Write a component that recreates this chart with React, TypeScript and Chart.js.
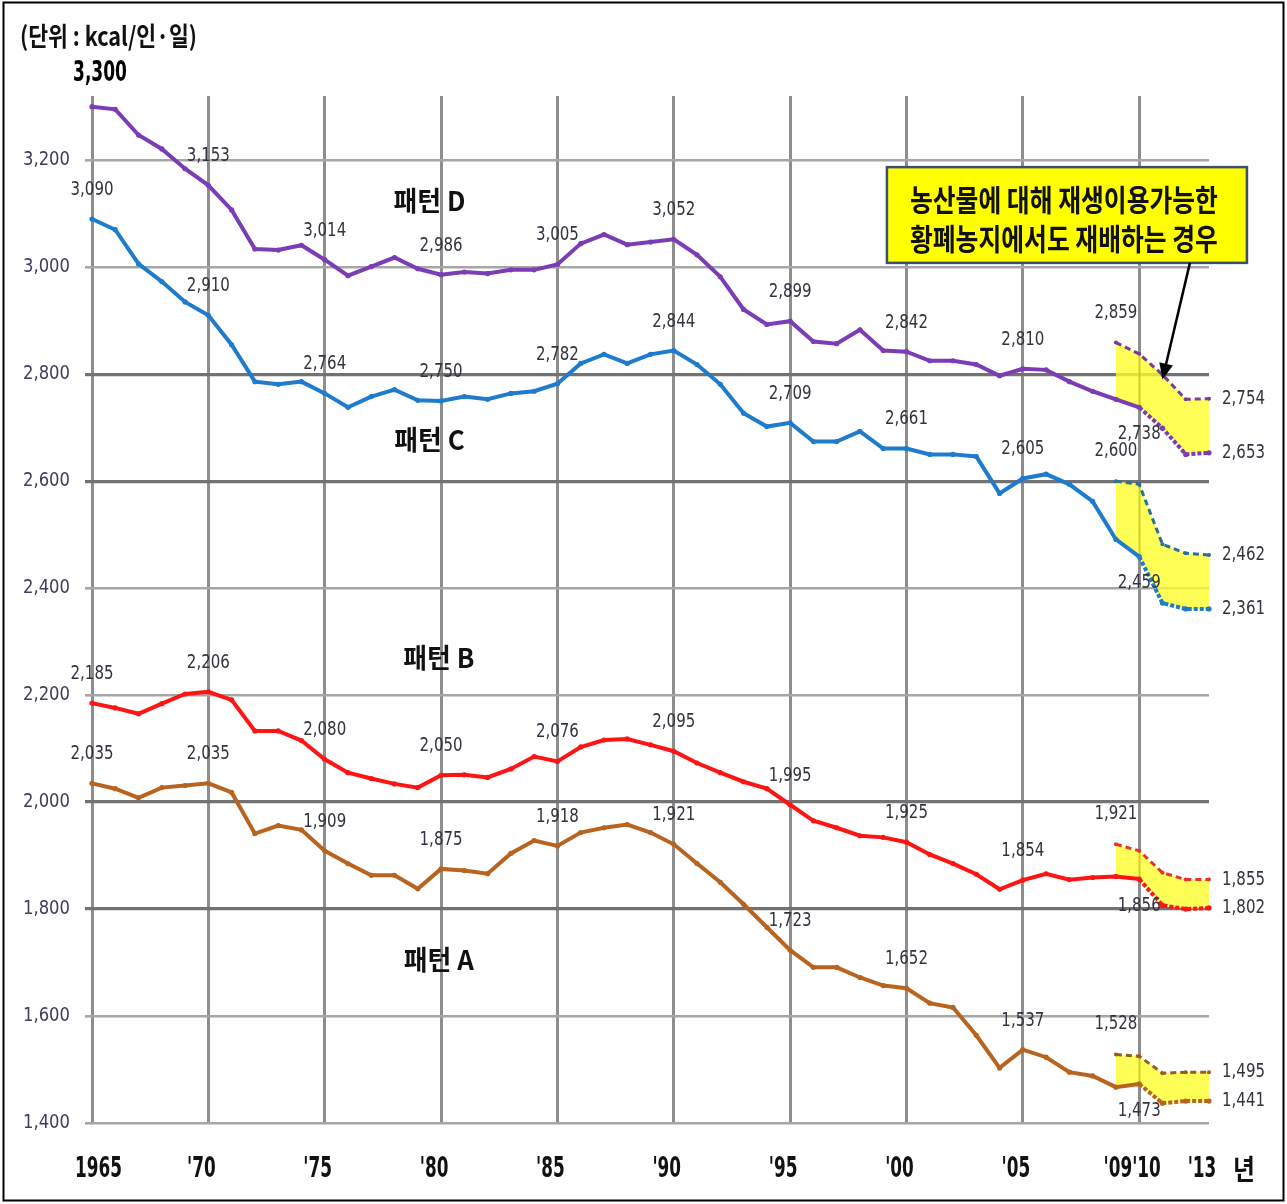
import React, { useEffect, useRef } from "react";
import { Chart, registerables } from "chart.js";

Chart.register(...registerables);

// ---------- data ----------
const mainYears = [
  1965, 1966, 1967, 1968, 1969, 1970, 1971, 1972, 1973, 1974,
  1975, 1976, 1977, 1978, 1979, 1980, 1981, 1982, 1983, 1984,
  1985, 1986, 1987, 1988, 1989, 1990, 1991, 1992, 1993, 1994,
  1995, 1996, 1997, 1998, 1999, 2000, 2001, 2002, 2003, 2004,
  2005, 2006, 2007, 2008, 2009, 2010,
];
const tailYears = [2010, 2011, 2012, 2013];
const branchYears = [2009, 2010, 2011, 2012, 2013];

const patternDMain = [
  3300, 3295, 3247, 3221, 3184, 3153, 3107, 3034, 3032, 3041,
  3014, 2984, 3001, 3018, 2997, 2986, 2991, 2988, 2995, 2995,
  3005, 3044, 3061, 3042, 3047, 3052, 3023, 2982, 2921, 2893,
  2899, 2861, 2857, 2883, 2844, 2842, 2825, 2825, 2818, 2797,
  2810, 2808, 2786, 2768, 2753, 2738,
];
const patternDTail = [2738, 2699, 2650, 2653];
const patternDHigh = [2859, 2838, 2799, 2753, 2754];

const patternCMain = [
  3090, 3070, 3006, 2973, 2935, 2910, 2855, 2786, 2781, 2786,
  2764, 2738, 2758, 2771, 2751, 2750, 2758, 2753, 2764, 2768,
  2782, 2820, 2837, 2820, 2837, 2844, 2818, 2781, 2727, 2702,
  2709, 2674, 2674, 2693, 2661, 2661, 2650, 2650, 2646, 2577,
  2605, 2613, 2594, 2562, 2491, 2459,
];
const patternCTail = [2459, 2372, 2361, 2361];
const patternCHigh = [2600, 2594, 2482, 2465, 2462];

const patternBMain = [
  2185, 2176, 2165, 2184, 2202, 2206, 2191, 2133, 2133, 2115,
  2080, 2055, 2044, 2034, 2027, 2050, 2051, 2046, 2062, 2085,
  2076, 2103, 2116, 2118, 2107, 2095, 2073, 2055, 2038, 2025,
  1995, 1965, 1952, 1937, 1934, 1925, 1902, 1885, 1865, 1837,
  1854, 1866, 1855, 1859, 1861, 1856,
];
const patternBTail = [1856, 1807, 1800, 1802];
const patternBHigh = [1921, 1909, 1868, 1855, 1855];

const patternAMain = [
  2035, 2025, 2008, 2027, 2031, 2035, 2018, 1941, 1956, 1948,
  1909, 1885, 1863, 1863, 1838, 1875, 1872, 1866, 1904, 1928,
  1918, 1943, 1952, 1958, 1943, 1921, 1885, 1850, 1809, 1766,
  1723, 1691, 1691, 1672, 1657, 1652, 1624, 1616, 1564, 1503,
  1537, 1523, 1495, 1488, 1467, 1473,
];
const patternATail = [1473, 1437, 1441, 1441];
const patternAHigh = [1528, 1525, 1493, 1495, 1495];

const labelYears = [1965, 1970, 1975, 1980, 1985, 1990, 1995, 2000, 2005];

const yTickValues = [1400, 1600, 1800, 2000, 2200, 2400, 2600, 2800, 3000, 3200];
const yStrongValues = [1800, 2000, 2600, 2800];
const xGridYears = [1965, 1970, 1975, 1980, 1985, 1990, 1995, 2000, 2005, 2010];
const xTickYears = [1965, 1970, 1975, 1980, 1985, 1990, 1995, 2000, 2005, 2010, 2013];
const xTickText = ["1965", "'70", "'75", "'80", "'85", "'90", "'95", "'00", "'05", "'09'10", "'13"];

const patternNames = ["패턴 D", "패턴 C", "패턴 B", "패턴 A"];
const patternNameYears = [1979.5, 1979.5, 1979.9, 1979.9];
const patternNameValues = [3125, 2677, 2269, 1705];

const unitText = "(단위 : kcal/인·일)";
const yearUnit = "년";
const calloutLines = ["농산물에 대해 재생이용가능한", "황폐농지에서도 재배하는 경우"];

// ---------- styling ----------
const SANS = "'DejaVu Sans', 'Liberation Sans', sans-serif";
const KR = "'Noto Sans CJK KR', 'Noto Sans', sans-serif";
const YELLOW = "rgba(255, 255, 40, 0.78)";

const patterns = [
  { main: patternDMain, tail: patternDTail, high: patternDHigh, color: "#7b3db5", hi: "#7a3c95" },
  { main: patternCMain, tail: patternCTail, high: patternCHigh, color: "#1f7bcc", hi: "#2a7295" },
  { main: patternBMain, tail: patternBTail, high: patternBHigh, color: "#ff1414", hi: "#e8322a" },
  { main: patternAMain, tail: patternATail, high: patternAHigh, color: "#b8641f", hi: "#9a5a22" },
];

const fmt = (v: number) => v.toLocaleString("en-US");

function scaleFor(ctx: CanvasRenderingContext2D, sample: string, font: string, width: number) {
  ctx.save();
  ctx.font = font;
  const w = ctx.measureText(sample).width;
  ctx.restore();
  return w > 0 ? width / w : 1;
}

function drawText(
  ctx: CanvasRenderingContext2D,
  text: string,
  x: number,
  y: number,
  font: string,
  sx: number,
  color: string,
  align: CanvasTextAlign
) {
  ctx.save();
  ctx.font = font;
  ctx.fillStyle = color;
  ctx.textBaseline = "middle";
  ctx.textAlign = align;
  ctx.translate(x, y);
  ctx.scale(sx, 1);
  ctx.fillText(text, 0, 0);
  ctx.restore();
}

const overlayPlugin = {
  id: "overlay",
  afterDraw(chart: any) {
    const ctx: CanvasRenderingContext2D = chart.ctx;
    const xs = chart.scales.x;
    const ys = chart.scales.y;
    const X = (v: number) => xs.getPixelForValue(v);
    const Y = (v: number) => ys.getPixelForValue(v);
    const area = chart.chartArea;

    // outer frame
    ctx.save();
    ctx.strokeStyle = "#000";
    ctx.lineWidth = 2;
    ctx.strokeRect(3.5, 2.5, 1280, 1198);
    ctx.restore();

    // unit label
    const unitFont = `bold 26px ${KR}`;
    drawText(ctx, unitText, 20, 36, unitFont, scaleFor(ctx, unitText, unitFont, 177), "#111", "left");

    // y tick labels
    const yFont = `20px ${SANS}`;
    const ySx = scaleFor(ctx, "3,200", yFont, 47);
    yTickValues.forEach((v) => {
      drawText(ctx, fmt(v), area.left - 22, Y(v), yFont, ySx, "#3d3d5c", "right");
    });

    // x tick labels
    const xFont = `bold 29px ${SANS}`;
    const xSx = scaleFor(ctx, "1965", xFont, 47);
    xTickYears.forEach((yr, i) => {
      const t = xTickText[i];
      if (i === 0) drawText(ctx, t, X(yr) - 17, area.bottom + 46, xFont, xSx, "#111", "left");
      else drawText(ctx, t, X(yr) - 7, area.bottom + 46, xFont, xSx, "#111", "center");
    });
    drawText(ctx, yearUnit, area.right + 35, area.bottom + 46, `bold 28px ${KR}`, 0.85, "#111", "center");

    // data labels
    const lFont = `19px ${SANS}`;
    const lSx = scaleFor(ctx, "3,153", lFont, 43);
    const lColor = "#33333f";
    patterns.forEach((p, pi) => {
      labelYears.forEach((yr) => {
        const v = p.main[mainYears.indexOf(yr)];
        if (pi === 0 && yr === 1965) {
          const bFont = `bold 29px ${SANS}`;
          drawText(ctx, fmt(v), X(yr) + 8, Y(v) - 33, bFont, scaleFor(ctx, "3,300", bFont, 54), "#000", "center");
        } else {
          drawText(ctx, fmt(v), X(yr), Y(v) - 29, lFont, lSx, lColor, "center");
        }
      });
      // upper branch
      const h0 = p.high[0];
      drawText(ctx, fmt(h0), X(branchYears[0]), Y(h0) - 30, lFont, lSx, lColor, "center");
      const hl = p.high[p.high.length - 1];
      drawText(ctx, fmt(hl), X(branchYears[branchYears.length - 1]) + 13, Y(hl), lFont, lSx, lColor, "left");
      // lower branch
      const t0 = p.tail[0];
      drawText(ctx, fmt(t0), X(tailYears[0]), Y(t0) + 27, lFont, lSx, lColor, "center");
      const tl = p.tail[p.tail.length - 1];
      drawText(ctx, fmt(tl), X(tailYears[tailYears.length - 1]) + 13, Y(tl), lFont, lSx, lColor, "left");
    });

    // pattern names
    const pFont = `bold 27px ${KR}`;
    const pSx = scaleFor(ctx, "패턴 D", pFont, 72);
    patternNames.forEach((n, i) => {
      drawText(ctx, n, X(patternNameYears[i]), Y(patternNameValues[i]), pFont, pSx, "#111", "center");
    });

    // callout box
    const bx0 = X(1999.16), bx1 = X(2014.63);
    const by0 = Y(3187), by1 = Y(3008);
    ctx.save();
    ctx.fillStyle = "#ffff00";
    ctx.fillRect(bx0, by0, bx1 - bx0, by1 - by0);
    ctx.strokeStyle = "#3b4f6e";
    ctx.lineWidth = 2.5;
    ctx.strokeRect(bx0, by0, bx1 - bx0, by1 - by0);
    ctx.restore();
    const cFont = `bold 30px ${KR}`;
    const cSx = scaleFor(ctx, calloutLines[0], cFont, 308);
    const cx = (bx0 + bx1) / 2 - 3;
    drawText(ctx, calloutLines[0], cx, by0 + 32, cFont, cSx, "#111", "center");
    drawText(ctx, calloutLines[1], cx, by0 + 71, cFont, cSx, "#111", "center");

    // arrow
    const ax0 = X(2012.18), ay0 = by1;
    const ax1 = X(2011), ay1 = Y(2790);
    const ang = Math.atan2(ay1 - ay0, ax1 - ax0);
    ctx.save();
    ctx.strokeStyle = "#000";
    ctx.fillStyle = "#000";
    ctx.lineWidth = 2.5;
    ctx.beginPath();
    ctx.moveTo(ax0, ay0);
    ctx.lineTo(ax1 - 12 * Math.cos(ang), ay1 - 12 * Math.sin(ang));
    ctx.stroke();
    ctx.beginPath();
    ctx.moveTo(ax1, ay1);
    ctx.lineTo(ax1 - 16 * Math.cos(ang) + 7 * Math.sin(ang), ay1 - 16 * Math.sin(ang) - 7 * Math.cos(ang));
    ctx.lineTo(ax1 - 16 * Math.cos(ang) - 7 * Math.sin(ang), ay1 - 16 * Math.sin(ang) + 7 * Math.cos(ang));
    ctx.closePath();
    ctx.fill();
    ctx.restore();
  },
};

export default function App() {
  const canvasRef = useRef<HTMLCanvasElement | null>(null);

  useEffect(() => {
    if (!canvasRef.current) return;
    const datasets: any[] = [];
    patterns.forEach((p) => {
      const mainData = mainYears
        .map((x, i) => ({ x, y: p.main[i] }))
        .concat(tailYears.slice(1).map((x, i) => ({ x, y: p.tail[i + 1] })));
      datasets.push({
        data: mainData,
        borderColor: p.color,
        backgroundColor: p.color,
        borderWidth: 4,
        pointRadius: 2.6,
        pointBorderWidth: 0,
        pointBackgroundColor: p.color,
        tension: 0,
        fill: false,
        clip: false,
        segment: {
          borderDash: (c: any) => (c.p0.parsed.x >= 2010 ? [4, 2] : undefined),
        },
      });
      datasets.push({
        data: branchYears.map((x, i) => ({ x, y: p.high[i] })),
        borderColor: p.hi,
        backgroundColor: YELLOW,
        borderWidth: 3,
        borderDash: [6, 4],
        pointRadius: 2,
        pointBorderWidth: 0,
        pointBackgroundColor: p.hi,
        tension: 0,
        fill: { target: "-1", above: YELLOW, below: YELLOW },
        clip: false,
      });
    });

    const chart = new Chart(canvasRef.current, {
      type: "line",
      data: { datasets },
      options: {
        animation: false,
        responsive: true,
        maintainAspectRatio: false,
        devicePixelRatio: 1,
        layout: { padding: { left: 0, top: 96, right: 78, bottom: 81 } },
        plugins: {
          legend: { display: false },
          tooltip: { enabled: false },
          title: { display: false },
        },
        scales: {
          x: {
            type: "linear",
            min: 1965,
            max: 2013,
            afterBuildTicks: (s: any) => {
              s.ticks = xGridYears.map((v) => ({ value: v }));
            },
            afterFit: (s: any) => {
              s.height = 0;
            },
            ticks: { display: false },
            grid: { color: "#8e8e8e", lineWidth: 3, drawTicks: false },
            border: { display: false },
          },
          y: {
            type: "linear",
            min: 1400,
            max: 3320,
            afterBuildTicks: (s: any) => {
              s.ticks = yTickValues.map((v) => ({ value: v }));
            },
            afterFit: (s: any) => {
              s.width = 92;
            },
            ticks: { display: false },
            grid: {
              color: (c: any) => (c.tick && yStrongValues.includes(c.tick.value) ? "#727272" : "#a6a6a6"),
              lineWidth: (c: any) => (c.tick && yStrongValues.includes(c.tick.value) ? 3.2 : 2.6),
              drawTicks: true,
              tickLength: 7,
            },
            border: { display: false },
          },
        },
      } as any,
      plugins: [overlayPlugin],
    });
    return () => chart.destroy();
  }, []);

  return (
    <div style={{ position: "absolute", left: 0, top: 0, width: 1287, height: 1204, background: "#fff" }}>
      <canvas ref={canvasRef} />
    </div>
  );
}
